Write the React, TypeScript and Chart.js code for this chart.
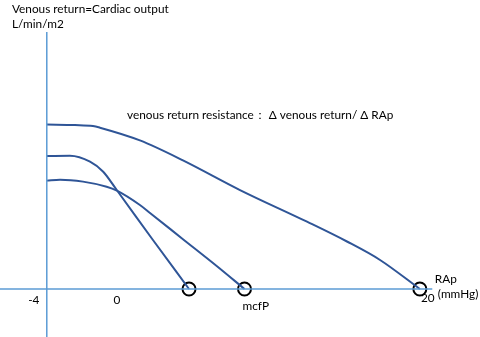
import { useEffect, useRef } from "react";
import { Chart, registerables } from "chart.js";

Chart.register(...registerables);

// Venous return curves (x: right atrial pressure mmHg, y: venous return L/min/m2)
const highRAp = [-4, -2.19, -1.03, -0.58, 1.99, 4.76, 8.43, 12.74, 15.31, 17.44, 20.0];
const highVR = [9.97, 9.94, 9.88, 9.78, 9.01, 7.8, 6.0, 4.08, 2.88, 1.76, 0];

const midRAp = [-4, -2.51, -1.22, -0.37, 0.5, 2.83, 5.15];
const midVR = [8.06, 8.08, 7.72, 7.11, 6.0, 2.97, 0];

const lowRAp = [-4, -3.15, -1.67, -0.15, 0.51, 1.99, 2.64, 4.76, 6.95, 8.72];
const lowVR = [6.57, 6.63, 6.51, 6.2, 5.96, 5.09, 4.61, 3.02, 1.38, 0];

// mean circulatory filling pressures (circles on the x axis)
const mcfpValues = [5.15, 8.72, 20.0];

// axis extents
const xAxisRange = [-7.01, 20.8];
const yAxisRange = [-2.91, 15.58];
const yAxisAt = -4;

const tickLabels = ["-4", "0", "20"];
const tickValues = [-4, 0, 20];

const titleLine1 = "Venous return=Cardiac output";
const titleLine2 = "L/min/m2";
const annotation = "venous return resistance： Δ venous return/ Δ RAp";
const xUnitLine1 = "RAp";
const xUnitLine2 = "(mmHg)";
const mcfpLabel = "mcfP";

const CURVE = "#2f5597";
const AXIS = "#5b9bd5";
const FONT = "Lato, 'Open Sans', sans-serif";

const zip = (xs: number[], ys: number[]) => xs.map((x, i) => ({ x, y: ys[i] }));

const textPlugin = {
  id: "diagramText",
  afterDatasetsDraw(chart: any) {
    const { ctx, scales } = chart;
    const X = (v: number) => scales.x.getPixelForValue(v);
    const Y = (v: number) => scales.y.getPixelForValue(v);
    ctx.save();
    ctx.fillStyle = "#000";
    ctx.textBaseline = "middle";
    ctx.font = `11.8px ${FONT}`;
    ctx.textAlign = "left";
    ctx.fillText(titleLine1, 12, 9);
    ctx.fillText(titleLine2, 12, 24);
    ctx.fillText(annotation, 127, 115);
    // tick labels
    ctx.textAlign = "center";
    ctx.fillText(tickLabels[0], X(tickValues[0]) - 13, Y(0) + 11);
    ctx.fillText(tickLabels[1], X(tickValues[1]) + 8, Y(0) + 11);
    ctx.fillText(tickLabels[2], X(tickValues[2]) + 8, Y(0) + 9);
    ctx.textAlign = "left";
    ctx.fillText(mcfpLabel, X(mcfpValues[1]) - 2, Y(0) + 17);
    ctx.fillText(xUnitLine1, X(20) + 15, Y(0) - 10);
    ctx.fillText(xUnitLine2, X(20) + 18, Y(0) + 5);
    ctx.restore();
  },
};

export default function App() {
  const ref = useRef<HTMLCanvasElement | null>(null);
  useEffect(() => {
    if (!ref.current) return;
    const curve = (xs: number[], ys: number[]) => ({
      data: zip(xs, ys),
      showLine: true,
      borderColor: CURVE,
      borderWidth: 2,
      pointRadius: 0,
      cubicInterpolationMode: "monotone",
    });
    const chart = new Chart(ref.current, {
      type: "scatter",
      data: {
        datasets: [
          {
            data: zip(xAxisRange, [0, 0]),
            showLine: true,
            borderColor: AXIS,
            borderWidth: 1.5,
            pointRadius: 0,
          },
          {
            data: zip([yAxisAt, yAxisAt], yAxisRange),
            showLine: true,
            borderColor: AXIS,
            borderWidth: 1.5,
            pointRadius: 0,
          },
          curve(highRAp, highVR),
          curve(midRAp, midVR),
          curve(lowRAp, lowVR),
          {
            data: mcfpValues.map((x) => ({ x, y: 0 })),
            showLine: false,
            pointRadius: 6.5,
            pointBorderWidth: 2,
            pointBorderColor: "#000",
            pointBackgroundColor: "rgba(0,0,0,0)",
          },
        ],
      } as any,
      options: {
        responsive: false,
        animation: false,
        layout: { padding: 0, autoPadding: false },
        plugins: {
          legend: { display: false },
          tooltip: { enabled: false },
          title: { display: false },
        },
        scales: {
          x: { type: "linear", min: -7.01, max: 23.87, display: false },
          y: { type: "linear", min: -2.91, max: 17.52, display: false },
        },
      } as any,
      plugins: [textPlugin],
    });
    return () => chart.destroy();
  }, []);
  return (
    <div style={{ position: "absolute", left: 0, top: 0, width: 480, height: 337, background: "#fff" }}>
      <canvas ref={ref} width={480} height={337} style={{ display: "block" }} />
    </div>
  );
}
